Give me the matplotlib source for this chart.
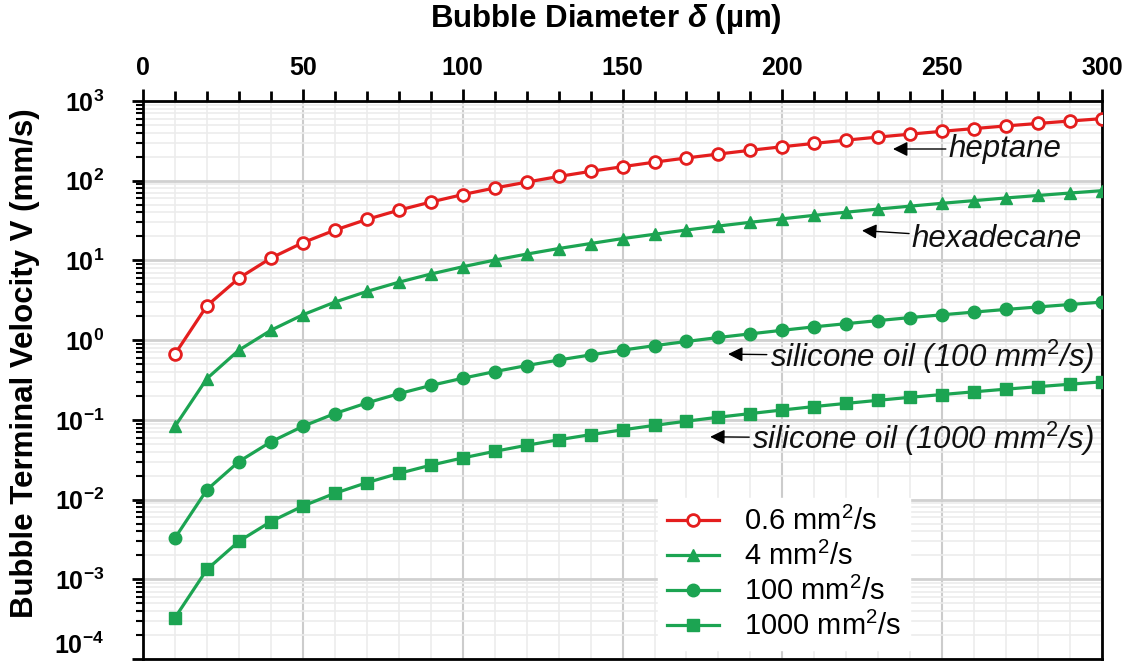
import matplotlib
matplotlib.use("Agg")
import matplotlib.pyplot as plt
from matplotlib.ticker import LogLocator, MultipleLocator, NullFormatter

plt.rcParams['font.family'] = ['Liberation Sans', 'DejaVu Sans']
plt.rcParams['mathtext.fontset'] = 'custom'
plt.rcParams['mathtext.rm'] = 'Liberation Sans'
plt.rcParams['mathtext.it'] = 'Liberation Sans:italic'
plt.rcParams['mathtext.bf'] = 'Liberation Sans:bold'
plt.rcParams['mathtext.bfit'] = 'Liberation Sans:bold:italic'

diameter = [10, 20, 30, 40, 50, 60, 70, 80, 90, 100, 110, 120, 130, 140, 150,
            160, 170, 180, 190, 200, 210, 220, 230, 240, 250, 260, 270, 280, 290, 300]

v_heptane = [0.67, 2.7, 6.0, 10.7, 16.7, 24, 32.7, 42.7, 54, 67, 81, 96, 113, 131, 150,
             171, 193, 216, 241, 267, 294, 323, 353, 384, 417, 451, 487, 523, 561, 601]
v_hexadecane = [0.083, 0.33, 0.75, 1.33, 2.08, 3.0, 4.08, 5.33, 6.75, 8.33, 10.1, 12.0, 14.1,
                16.3, 18.8, 21.3, 24.1, 27.0, 30.1, 33.3, 36.8, 40.3, 44.1, 48.0, 52.1,
                56.3, 60.8, 65.3, 70.1, 75.0]
v_sil100 = [0.0033, 0.0133, 0.030, 0.053, 0.083, 0.12, 0.163, 0.213, 0.27, 0.333, 0.403,
            0.48, 0.563, 0.653, 0.75, 0.853, 0.963, 1.08, 1.20, 1.33, 1.47, 1.61, 1.76,
            1.92, 2.08, 2.25, 2.43, 2.61, 2.80, 3.0]
v_sil1000 = [0.00033, 0.00133, 0.0030, 0.0053, 0.0083, 0.012, 0.0163, 0.0213, 0.027,
             0.0333, 0.0403, 0.048, 0.0563, 0.0653, 0.075, 0.0853, 0.0963, 0.108, 0.120,
             0.133, 0.147, 0.161, 0.176, 0.192, 0.208, 0.225, 0.243, 0.261, 0.280, 0.300]

labels = ['0.6 mm$^2$/s', '4 mm$^2$/s', '100 mm$^2$/s', '1000 mm$^2$/s']
names = ['heptane', 'hexadecane', r'silicone oil (100 mm$^{\mathit{2}}$/s)',
         r'silicone oil (1000 mm$^{\mathit{2}}$/s)']
y_exps = [-4, -3, -2, -1, 0, 1, 2, 3]

red = '#e41e1e'
green = '#1ca452'

fig = plt.figure(figsize=(11.28, 6.61), dpi=100)
ax = fig.add_axes([0.1268, 0.003, 0.8502, 0.8442])

ax.plot(diameter, v_heptane, color=red, lw=2.3, marker='o', ms=8.5,
        mfc='white', mec=red, mew=2, label=labels[0], zorder=4)
ax.plot(diameter, v_hexadecane, color=green, lw=2.3, marker='^', ms=9,
        label=labels[1], zorder=4)
ax.plot(diameter, v_sil100, color=green, lw=2.3, marker='o', ms=9,
        label=labels[2], zorder=4)
ax.plot(diameter, v_sil1000, color=green, lw=2.3, marker='s', ms=8,
        label=labels[3], zorder=4)

ax.set_yscale('log')
ax.set_xlim(0, 300)
ax.set_ylim(1e-4, 1e3)

ax.xaxis.tick_top()
ax.xaxis.set_major_locator(MultipleLocator(50))
ax.xaxis.set_minor_locator(MultipleLocator(10))
ax.set_yticks([10.0 ** e for e in y_exps])
ax.set_yticklabels([r'$\mathbf{10^{%d}}$' % e for e in y_exps])
ax.yaxis.set_minor_locator(LogLocator(base=10, subs=range(2, 10), numticks=20))
ax.yaxis.set_minor_formatter(NullFormatter())

ax.tick_params(axis='x', which='major', direction='out', length=9, width=2,
               labelsize=18, pad=6, top=True, bottom=False)
ax.tick_params(axis='x', which='minor', direction='out', length=7, width=2,
               top=True, bottom=False)
ax.tick_params(axis='y', which='major', direction='out', length=8, width=2,
               labelsize=18, pad=20)
ax.tick_params(axis='y', which='minor', direction='out', length=5, width=1.5)
for t in ax.get_xticklabels():
    t.set_fontweight('bold')
ax.yaxis.get_major_ticks()[0].label1.set_va('bottom')

for s in ax.spines.values():
    s.set_linewidth(2)

ax.grid(which='minor', axis='both', color='#ececec', lw=1.2, zorder=0)
ax.grid(which='major', axis='x', color='#cccccc', lw=1.5, zorder=0)
ax.grid(which='major', axis='y', color='#d0d0d0', lw=2, zorder=0)
ax.set_axisbelow(True)

ax.xaxis.set_label_position('top')
ax.set_xlabel(r'Bubble Diameter $\mathbfit{\delta}$ (µm)', fontsize=22.5,
              fontweight='bold')
ax.xaxis.label.set_va('center')
ax.xaxis.set_label_coords(0.483, 1.147)
ax.set_ylabel('Bubble Terminal Velocity V (mm/s)', fontsize=22.5,
              fontweight='bold')
ax.yaxis.label.set_va('center')
ax.yaxis.set_label_coords(-0.123, 0.53)

arrows = [((234.6, 250), (252, 250)),
          ((224.9, 23.7), (240.5, 18.5)),
          ((183, 0.668), (196, 0.62)),
          ((177.4, 0.0613), (190.5, 0.058))]
for name, (tip, txt) in zip(names, arrows):
    ax.annotate(name, xy=tip, xytext=txt, fontsize=22.5, style='italic',
                color='#111111', va='center', ha='left', zorder=5,
                arrowprops=dict(arrowstyle='-|>', color='black', lw=1,
                                mutation_scale=22, shrinkA=0, shrinkB=0))

leg = ax.legend(loc='upper left', bbox_to_anchor=(0.522, 0.314), fontsize=21,
                frameon=True, fancybox=False, framealpha=1, edgecolor='white',
                handlelength=1.8, handletextpad=0.85, labelspacing=0.2,
                borderpad=0.3)
leg.set_zorder(6)

fig.savefig('out.png', dpi=100)
